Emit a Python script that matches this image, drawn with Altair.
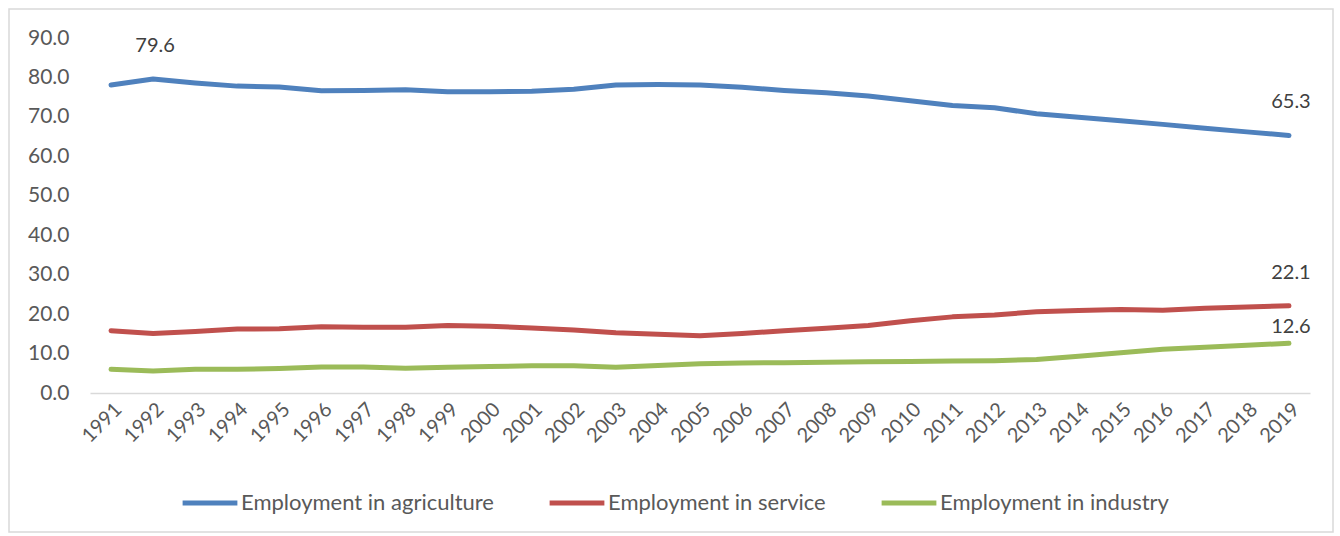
import altair as alt
import pandas as pd

years = list(range(1991, 2020))
agriculture = [78.1, 79.6, 78.6, 77.8, 77.6, 76.6, 76.7, 76.9, 76.4, 76.4, 76.5, 77.0, 78.1, 78.2, 78.1,
               77.5, 76.7, 76.1, 75.3, 74.1, 72.9, 72.3, 70.8, 69.9, 69.0, 68.1, 67.1, 66.2, 65.3]
service = [15.8, 15.1, 15.6, 16.2, 16.3, 16.8, 16.7, 16.7, 17.1, 16.9, 16.5, 16.0, 15.3, 14.9, 14.5,
           15.1, 15.8, 16.4, 17.1, 18.3, 19.3, 19.8, 20.6, 20.9, 21.2, 21.0, 21.5, 21.8, 22.1]
industry = [6.0, 5.6, 6.0, 6.0, 6.2, 6.6, 6.6, 6.3, 6.5, 6.7, 6.9, 6.9, 6.5, 7.0, 7.4,
            7.6, 7.7, 7.8, 7.9, 8.0, 8.1, 8.2, 8.5, 9.3, 10.2, 11.1, 11.6, 12.1, 12.6]
y_ticks = [0, 10, 20, 30, 40, 50, 60, 70, 80, 90]
series_names = ["Employment in agriculture", "Employment in service", "Employment in industry"]
colors = ["#4F81BD", "#C0504D", "#9BBB59"]

rows = []
for name, vals in zip(series_names, [agriculture, service, industry]):
    for y, v in zip(years, vals):
        rows.append({"Year": str(y), "Series": name, "Value": v})
df = pd.DataFrame(rows)

FONT = "Lato"
x_enc = alt.X("Year:O", scale=alt.Scale(type="point", padding=0.5),
              axis=alt.Axis(title=None, labelAngle=-45, labelFontSize=20, labelColor="#595959",
                            labelFont=FONT, ticks=False, domainColor="#d9d9d9", domainWidth=1.5,
                            labelPadding=6, grid=False, labelOverlap=False))
y_enc = alt.Y("Value:Q", scale=alt.Scale(domain=[0, 90], nice=False),
              axis=alt.Axis(title=None, values=y_ticks, tickCount=10, format=".1f",
                            labelFontSize=21, labelColor="#595959", labelFont=FONT,
                            domain=False, ticks=False, grid=False, labelPadding=21,
                            labelOverlap=False))

lines = alt.Chart(df).mark_line(strokeWidth=5, strokeCap="round", strokeJoin="round").encode(
    x=x_enc, y=y_enc,
    color=alt.Color("Series:N", sort=series_names,
                    scale=alt.Scale(domain=series_names, range=colors),
                    legend=alt.Legend(title=None, orient="none", direction="horizontal",
                                      legendX=90, legendY=435, symbolType="stroke",
                                      symbolStrokeWidth=5, symbolSize=3000,
                                      labelFontSize=22, labelFont=FONT, labelColor="#595959",
                                      columnPadding=45, labelOffset=1, labelLimit=0)),
    order=alt.Order("Year:O"),
)

# data labels
label_specs = [("Employment in agriculture", "1992", -33),
               ("Employment in agriculture", "2019", -33),
               ("Employment in service", "2019", -33),
               ("Employment in industry", "2019", -16)]
texts = []
for s, yr, dy in label_specs:
    sub = df[(df.Series == s) & (df.Year == yr)]
    texts.append(alt.Chart(sub).mark_text(fontSize=20, font=FONT, color="#404040", dy=dy, dx=2,
                                          baseline="middle").encode(
        x=x_enc, y=y_enc,
        text=alt.Text("Value:Q", format=".1f")))

frame = alt.Chart(pd.DataFrame({"a": [0]})).mark_rect(fill=None, stroke="#d9d9d9", strokeWidth=1.5).encode(
    x=alt.value(-81), x2=alt.value(1243), y=alt.value(-29), y2=alt.value(494))

chart = alt.layer(frame, lines, *texts).properties(
    width=1220, height=355,
    padding={"left": 90, "top": 38, "right": 30, "bottom": 143},
    autosize=alt.AutoSizeParams(type="none"),
    background="white",
).configure_view(stroke=None).configure_axis(labelOverlap=False)

chart.save("out.html", embed_options={"renderer": "svg", "actions": False})
